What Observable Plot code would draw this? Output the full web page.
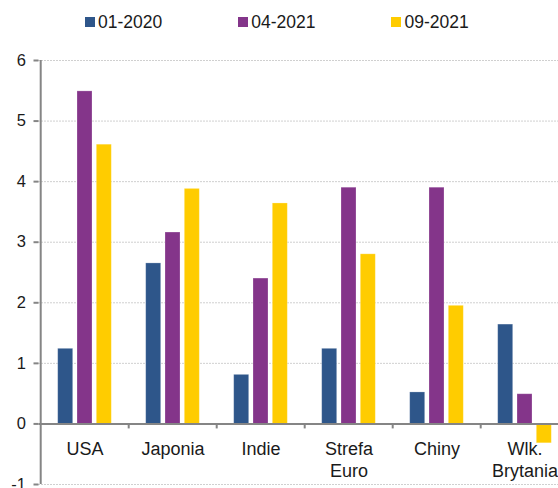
<!DOCTYPE html>
<html><head><meta charset="utf-8">
<script src="https://cdn.jsdelivr.net/npm/d3@7"></script>
<script src="https://cdn.jsdelivr.net/npm/@observablehq/plot@0.6"></script>
<style>
body{margin:0;background:#fff;font-family:"Liberation Sans",Arial,sans-serif;}
#legend{height:40px;display:flex;align-items:center;padding-left:85px;padding-top:4px;gap:76px;font-size:17.5px;color:#1a1a1a;box-sizing:border-box}
.item{display:flex;align-items:center}
.sw{width:10px;height:10px;margin-right:3px}
</style></head><body>
<div id="legend"></div>
<div id="chart"></div>
<script>
const categories = ["USA", "Japonia", "Indie", "Strefa Euro", "Chiny", "Wlk. Brytania"];
const categoryLabels = ["USA", "Japonia", "Indie", "Strefa\nEuro", "Chiny", "Wlk.\nBrytania"];
const seriesNames = ["01-2020", "04-2021", "09-2021"];
const seriesColors = ["#2E568A", "#84358A", "#FFCC00"];
const values_01_2020 = [1.24, 2.65, 0.81, 1.24, 0.52, 1.64];
const values_04_2021 = [5.49, 3.16, 2.40, 3.90, 3.90, 0.49];
const values_09_2021 = [4.61, 3.88, 3.64, 2.80, 1.95, -0.32];
const yTicks = [-1, 0, 1, 2, 3, 4, 5, 6];

const seriesValues = [values_01_2020, values_04_2021, values_09_2021];
const rows = [];
seriesNames.forEach((s, si) => categories.forEach((c, ci) => rows.push({country: c, series: s, value: seriesValues[si][ci]})));

// legend
const legend = document.getElementById("legend");
seriesNames.forEach((s, i) => {
  const it = document.createElement("div"); it.className = "item";
  const sw = document.createElement("span"); sw.className = "sw"; sw.style.background = seriesColors[i];
  const t = document.createElement("span"); t.textContent = s;
  it.appendChild(sw); it.appendChild(t); legend.appendChild(it);
});

const padInner = 0.825, padOuter = padInner / 2;
const barStep = 19.3;
const axisColor = "#858585";

const barMarks = seriesNames.map((s, i) => Plot.barY(rows.filter(d => d.series === s), {
  x: "country", y: "value", fill: seriesColors[i], dx: (i - 1) * barStep,
  stroke: "#ffffff", strokeOpacity: 0.3, strokeWidth: 0.8
}));

const decor = (index, scales) => {
  const x = scales.x, y = scales.y;
  const step = x(categories[1]) - x(categories[0]);
  const g = d3.create("svg:g").attr("stroke", axisColor);
  const x0 = x(categories[0]) - padOuter * step;
  g.append("line").attr("x1", x0).attr("x2", x0).attr("y1", y(6)).attr("y2", y(-1)).attr("stroke-width", 2);
  categories.slice(1).forEach(c => {
    const bx = x(c) - padOuter * step;
    g.append("line").attr("x1", bx).attr("x2", bx).attr("y1", y(0)).attr("y2", y(0) + 5).attr("stroke-width", 2);
  });
  return g.node();
};

const chart = Plot.plot({
  width: 558, height: 448,
  marginTop: 20, marginBottom: 4, marginLeft: 38.5, marginRight: 0,
  style: {fontFamily: "'Liberation Sans', Arial, sans-serif", fontSize: "16px", color: "#1a1a1a", background: "white", overflow: "hidden"},
  x: {type: "band", domain: categories, range: [38.5, 571.25], paddingInner: padInner, paddingOuter: padOuter, align: 0.5, axis: null},
  y: {domain: [-1, 6], axis: null},
  marks: [
    Plot.ruleY(yTicks.filter(d => d !== 0), {stroke: "#a0a0a0", strokeDasharray: "1,2", strokeWidth: 1}),
    ...barMarks,
    Plot.ruleY([0], {stroke: axisColor, strokeWidth: 2}),
    Plot.axisY({ticks: yTicks, label: null, tickSize: 5, tickPadding: 8, tickFormat: d => String(d), stroke: axisColor, strokeWidth: 2, fontSize: 16.5}),
    Plot.text(categories, {x: d => d, y: 0, text: (d, i) => categoryLabels[i], lineAnchor: "top", dy: 16, fontSize: 18, lineHeight: 1.2}),
    decor
  ]
});
document.getElementById("chart").appendChild(chart);
</script>
</body></html>
